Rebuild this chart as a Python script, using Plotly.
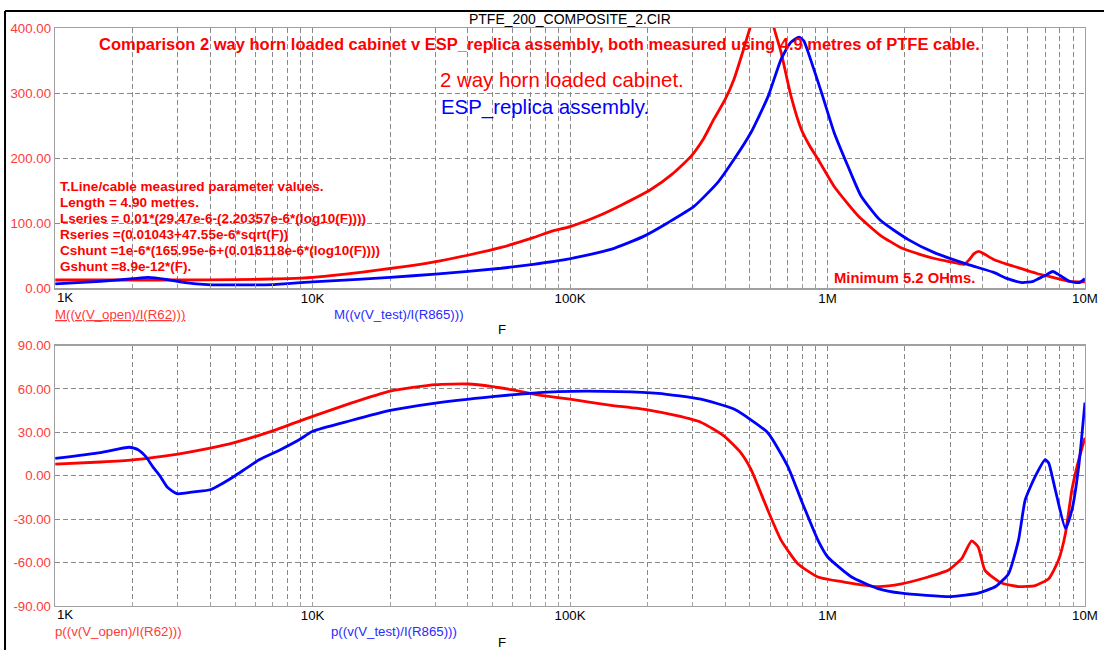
import plotly.graph_objects as go

# ---------------- data ----------------
# Magnitude (ohms) vs frequency (Hz)
f_mag_red = [1e3, 2e3, 3e3, 5e3, 8e3, 1e4, 1.7e4, 2.9e4, 4e4, 5.4e4, 7.2e4, 8.5e4, 1e5, 1.3e5,
             1.6e5, 2.06e5, 2.5e5, 2.95e5, 3.3e5, 3.62e5, 4e5, 4.33e5, 4.7e5, 5e5, 5.4e5, 5.7e5,
             6e5, 6.2e5, 6.6e5, 7.22e5, 7.9e5, 8.5e5, 9.2e5, 1.06e6, 1.2e6, 1.32e6, 1.6e6, 1.94e6,
             2.3e6, 2.6e6, 3.0e6, 3.4e6, 3.55e6, 3.7e6, 3.87e6, 4.1e6, 4.4e6, 5.0e6, 5.5e6, 6.5e6,
             7.5e6, 8.7e6, 1e7]
mag_red = [13, 13, 13, 13.5, 15, 17, 27, 40, 51, 63, 78, 88, 95, 112,
           129, 152, 176, 203, 230, 260, 290, 321, 365, 400, 440, 452,
           430, 400, 363, 295, 245, 220, 198, 157, 130, 111, 82, 62,
           52, 46, 41, 37, 44, 53, 57, 52, 45, 37, 32, 23,
           17, 11, 10]

f_mag_blue = [1e3, 1.5e3, 2e3, 2.3e3, 2.7e3, 3.2e3, 3.9e3, 5e3, 7e3, 8e3, 1e4, 1.5e4, 2e4, 3e4,
              5.4e4, 7.2e4, 9.8e4, 1.44e5, 1.93e5, 2.4e5, 3.03e5, 3.75e5, 4.33e5, 5.05e5, 5.88e5,
              6.6e5, 7.2e5, 7.76e5, 8.1e5, 8.41e5, 9.46e5, 1.06e6, 1.2e6, 1.35e6, 1.6e6, 2.06e6,
              2.6e6, 3.5e6, 4.4e6, 5.0e6, 5.7e6, 6.3e6, 7.0e6, 7.5e6, 8.0e6, 8.7e6, 9.5e6, 1e7]
mag_blue = [7, 11, 15, 17, 14, 9, 6, 5.5, 6, 7.5, 10, 14, 17, 22,
            31, 37, 45, 60, 80, 101, 126, 163, 198, 240, 295,
            352, 378, 386, 380, 363, 302, 240, 188, 142, 105, 75,
            55, 37, 25, 15, 9, 11, 20, 26, 20, 11, 9, 15]

# Phase (degrees) vs frequency (Hz)
f_ph_red = [1e3, 1.5e3, 2e3, 3e3, 4e3, 5e3, 7e3, 1e4, 1.4e4, 2e4, 3e4, 4e4, 5e4, 6e4, 7e4,
            8e4, 1e5, 1.4e5, 2e5, 2.6e5, 3.22e5, 3.97e5, 4.61e5, 5.05e5, 5.86e5, 6.6e5, 7.67e5,
            9.18e5, 1.16e6, 1.57e6, 1.94e6, 2.46e6, 2.94e6, 3.32e6, 3.63e6, 3.85e6, 4.09e6,
            4.75e6, 5.52e6, 6.41e6, 7.23e6, 7.89e6, 8.4e6, 8.9e6, 9.46e6, 1e7]
ph_red = [8, 9.5, 11, 15, 19, 23, 31, 41, 50, 58.5, 63, 63.4, 61.6, 59.3, 57,
          55.2, 52.9, 49, 45.6, 41.5, 37, 27.4, 15.8, 4.2, -23.7, -44.5, -60.8,
          -70, -73.5, -76.6, -74.7, -70, -65.4, -57.3, -45, -49.2, -65.4,
          -74.2, -76.6, -75.9, -71.2, -58.5, -39.9, -9.7, 11.1, 26.2]

f_ph_blue = [1e3, 1.5e3, 1.94e3, 2.1e3, 2.25e3, 2.4e3, 2.55e3, 2.73e3, 2.97e3, 3.5e3, 4e3, 4.5e3,
             5e3, 6.2e3, 7.5e3, 8.9e3, 1e4, 1.4e4, 2e4, 3e4, 5e4, 7e4, 9e4, 1.55e5, 2.2e5, 3.22e5,
             4.35e5, 5.86e5, 7.01e5, 7.9e5, 9.18e5, 1e6, 1.24e6, 1.57e6, 1.94e6, 3.03e6, 3.85e6,
             4.5e6, 5.05e6, 5.52e6, 5.86e6, 6.41e6, 7.01e6, 7.23e6, 7.67e6, 8.4e6, 8.9e6, 9.46e6, 1e7]
ph_blue = [12, 16, 19.7, 18, 13.2, 6, 0, -8, -12.4, -11, -9.7, -5,
           0, 11, 18, 25, 30.7, 38, 45.1, 50.2, 54.7, 57, 58.2, 58.2, 57, 52.9,
           45.9, 29.7, 6.5, -16.7, -44.5, -56, -70, -78, -81.2, -83.5, -81.2,
           -76.6, -67.7, -44.5, -16.7, -0.5, 11.1, 8.8, -9.7, -36.4, -23.7, 6.5, 50.6]

x_tick_vals = [m * 10 ** e for e in range(3, 7) for m in range(1, 10)] + [1e7]
x_tick_labels = {1e4: "10K", 1e5: "100K", 1e6: "1M", 1e7: "10M"}
first_x_label = "1K"
mag_ticks = [0, 100, 200, 300, 400]
mag_tick_text = ["0.00", "100.00", "200.00", "300.00", "400.00"]
ph_ticks = [-90, -60, -30, 0, 30, 60, 90]
ph_tick_text = ["-90.00", "-60.00", "-30.00", "0.00", "30.00", "60.00", "90.00"]

# ---------------- figure ----------------
# Reference layout is in 1104x650 pixel terms; the page is drawn slightly larger and
# shifted so the photographed result lines up (paper coords are unchanged by this).
RW, RH = 1104, 650
PAD = 8
SHIFT_X, SHIFT_Y = 1, 8
W, H = RW + 2 * PAD, RH + 2 * PAD
FS = 1.02  # font compensation for the slight downscale
FONT = "Liberation Sans, Arial, sans-serif"
RED = "#ff0000"
BLUE = "#0000ff"
AXRED = "#ff3a3a"


def px(x):
    return x / RW


def py(y):
    return 1 - y / RH


fig = go.Figure()
line_kw = dict(width=2.8, shape="spline", smoothing=0.5)
fig.add_trace(go.Scatter(x=f_mag_red, y=mag_red, mode="lines", line=dict(color=RED, **line_kw),
                         xaxis="x", yaxis="y", showlegend=False, hoverinfo="skip"))
fig.add_trace(go.Scatter(x=f_mag_blue, y=mag_blue, mode="lines", line=dict(color=BLUE, **line_kw),
                         xaxis="x", yaxis="y", showlegend=False, hoverinfo="skip"))
fig.add_trace(go.Scatter(x=f_ph_red, y=ph_red, mode="lines", line=dict(color=RED, **line_kw),
                         xaxis="x2", yaxis="y2", showlegend=False, hoverinfo="skip"))
fig.add_trace(go.Scatter(x=f_ph_blue, y=ph_blue, mode="lines", line=dict(color=BLUE, **line_kw),
                         xaxis="x2", yaxis="y2", showlegend=False, hoverinfo="skip"))

ticktext = [x_tick_labels.get(v, "") for v in x_tick_vals]
xcommon = dict(type="log", range=[3, 7], domain=[px(56), px(1083)],
               tickmode="array", tickvals=x_tick_vals, ticktext=ticktext,
               showgrid=True, gridcolor="#8a8a8a", gridwidth=1, griddash="5px,3px",
               showline=True, linecolor="#a0a0a0", linewidth=1.5, mirror=True,
               ticks="inside", ticklen=4, tickcolor="#a0a0a0", ticklabelstandoff=-3,
               tickfont=dict(family=FONT, size=13 * FS, color="#000000"), zeroline=False)
ycommon = dict(showgrid=True, gridcolor="#8a8a8a", gridwidth=1, griddash="5px,3px",
               showline=True, linecolor="#a0a0a0", linewidth=1.5, mirror=True,
               ticks="", tickfont=dict(family=FONT, size=13 * FS, color=AXRED), zeroline=False)

fig.update_layout(
    width=W, height=H, margin=dict(l=0, r=0, t=0, b=0),
    paper_bgcolor="white", plot_bgcolor="white", hovermode=False,
    xaxis=dict(xcommon, anchor="y"),
    yaxis=dict(ycommon, range=[0, 400], domain=[py(289), py(29)], tickmode="array",
               tickvals=mag_ticks, ticktext=mag_tick_text, anchor="x"),
    xaxis2=dict(xcommon, anchor="y2"),
    yaxis2=dict(ycommon, range=[-90, 90], domain=[py(606), py(346)], tickmode="array",
                tickvals=ph_ticks, ticktext=ph_tick_text, anchor="x2"),
)

# outer frame (black lines top and left)
fig.add_shape(type="line", xref="paper", yref="paper", x0=px(6), x1=1, y0=py(12), y1=py(12),
              line=dict(color="black", width=2))
fig.add_shape(type="line", xref="paper", yref="paper", x0=px(6), x1=px(6), y0=py(12), y1=0,
              line=dict(color="black", width=2))


def note(x, y, text, color, size, bold=False, anchor="left"):
    t = f"<b>{text}</b>" if bold else text
    fig.add_annotation(x=px(x), y=py(y), xref="paper", yref="paper", text=t, showarrow=False,
                       xanchor=anchor, yanchor="middle", borderpad=0,
                       font=dict(family=FONT, size=size * FS, color=color))


note(569, 20, "PTFE_200_COMPOSITE_2.CIR", "#000000", 13.7, anchor="center")
note(99, 45, "Comparison 2 way horn loaded cabinet v ESP_replica assembly, both measured using 4.9 metres of PTFE cable.",
     RED, 16.2, bold=True)
note(439, 81, "2 way horn loaded cabinet.", RED, 20)
note(440, 108, "ESP_replica assembly.", BLUE, 20)

block = ["T.Line/cable measured parameter values.",
         "Length = 4.90 metres.",
         "Lseries = 0.01*(29.47e-6-(2.20357e-6*(log10(F))))",
         "Rseries =(0.01043+47.55e-6*sqrt(F))",
         "Cshunt =1e-6*(165.95e-6+(0.016118e-6*(log10(F))))",
         "Gshunt =8.9e-12*(F)."]
for i, line in enumerate(block):
    note(60, 187 + 16 * i, line, RED, 13.3, bold=True)

note(832, 279, "Minimum 5.2 OHms.", RED, 14.5, bold=True)

# first decade label sits right of its tick, as in the reference
note(57, 298, first_x_label, "#000000", 13)
note(57, 615, first_x_label, "#000000", 13)

note(55, 315, "<u>M((v(V_open)/I(R62)))</u>", AXRED, 13)
note(333, 315, "M((v(V_test)/I(R865)))", "#2a2aff", 13)
note(502, 330, "F", "#000000", 13, anchor="center")
note(55, 632, "p((v(V_open)/I(R62)))", AXRED, 13)
note(330, 632, "p((v(V_test)/I(R865)))", "#2a2aff", 13)
note(502, 643, "F", "#000000", 13, anchor="center")

fig.write_html(
    "out.html",
    config={"displayModeBar": False, "staticPlot": True},
    post_script=("document.documentElement.style.margin='0';document.body.style.margin='0';"
                 "document.body.style.padding='0';document.documentElement.style.overflow='hidden';"
                 "document.body.style.overflow='hidden';"
                 "var gd=document.getElementById('{plot_id}');gd.style.position='absolute';"
                 "gd.style.left='-%dpx';gd.style.top='-%dpx';" % (SHIFT_X, SHIFT_Y)),
)
